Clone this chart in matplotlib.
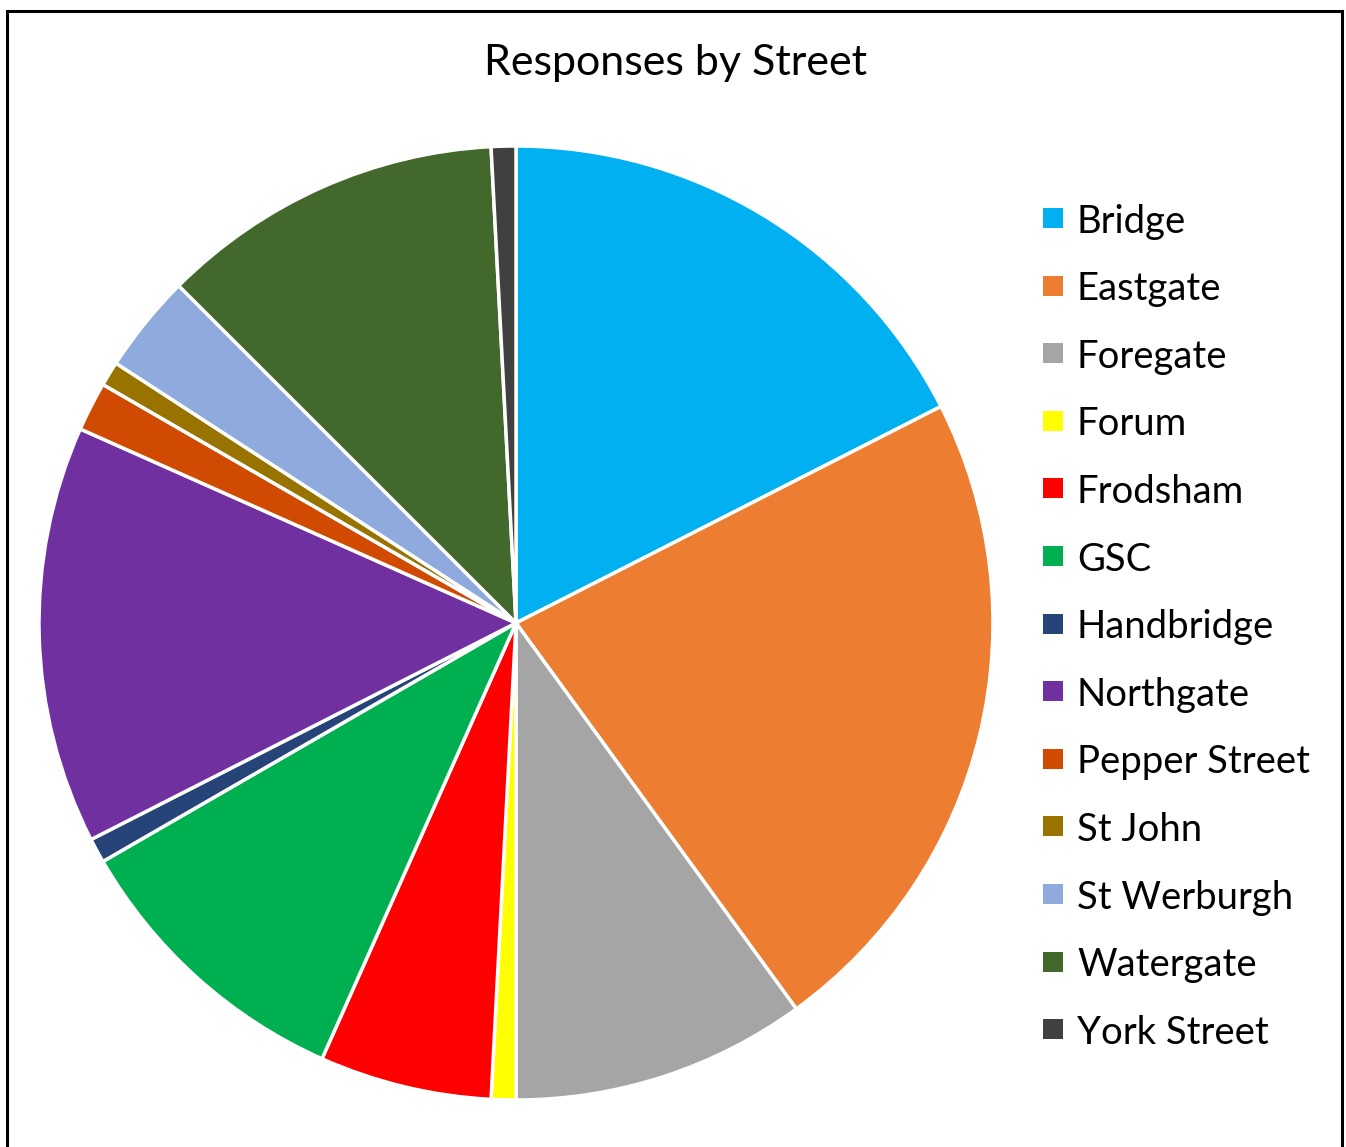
import matplotlib.pyplot as plt
from matplotlib.patches import Rectangle

plt.rcParams['font.family'] = ['Lato', 'DejaVu Sans']

# Responses per street
streets = ['Bridge', 'Eastgate', 'Foregate', 'Forum', 'Frodsham', 'GSC',
           'Handbridge', 'Northgate', 'Pepper Street', 'St John',
           'St Werburgh', 'Watergate', 'York Street']
responses = [21, 27, 12, 1, 7, 12, 1, 17, 2, 1, 4, 14, 1]
colors = ['#00B0F0', '#ED7D31', '#A5A5A5', '#FFFF00', '#FF0000', '#00B050',
          '#264478', '#7030A0', '#D04A02', '#997300', '#8FAADC', '#43682B',
          '#404040']

W, H = 1346, 1147
fig = plt.figure(figsize=(W / 100, H / 100), dpi=100)

# chart border (bottom edge runs off the image)
fig.patches.append(Rectangle((7 / W, -0.05), (1342 - 7) / W, (H - 11) / H + 0.05,
                             transform=fig.transFigure, fill=False,
                             edgecolor='black', linewidth=2.2))

# pie centred at (516, 623) px with radius 477 px
cx, cy, r = 516, 623, 477
ax = fig.add_axes([(cx - r) / W, (H - cy - r) / H, 2 * r / W, 2 * r / H])
ax.pie(responses, colors=colors, startangle=90, counterclock=False,
       radius=1, wedgeprops=dict(edgecolor='white', linewidth=2.5))
ax.set_xlim(-1, 1)
ax.set_ylim(-1, 1)
ax.set_aspect('equal')
ax.axis('off')

fig.text(675 / W, 1 - 63 / H, 'Responses by Street', ha='center', va='center',
         fontsize=31)

# legend down the right-hand side
for i, (name, c) in enumerate(zip(streets, colors)):
    y = 218 + i * 67.6
    fig.patches.append(Rectangle(((1053 - 10) / W, 1 - (y + 10) / H), 20 / W, 20 / H,
                                 transform=fig.transFigure, facecolor=c,
                                 edgecolor='none'))
    fig.text(1077 / W, 1 - y / H, name, ha='left', va='center_baseline',
             fontsize=27.5)

fig.savefig('out.png', dpi=100)
